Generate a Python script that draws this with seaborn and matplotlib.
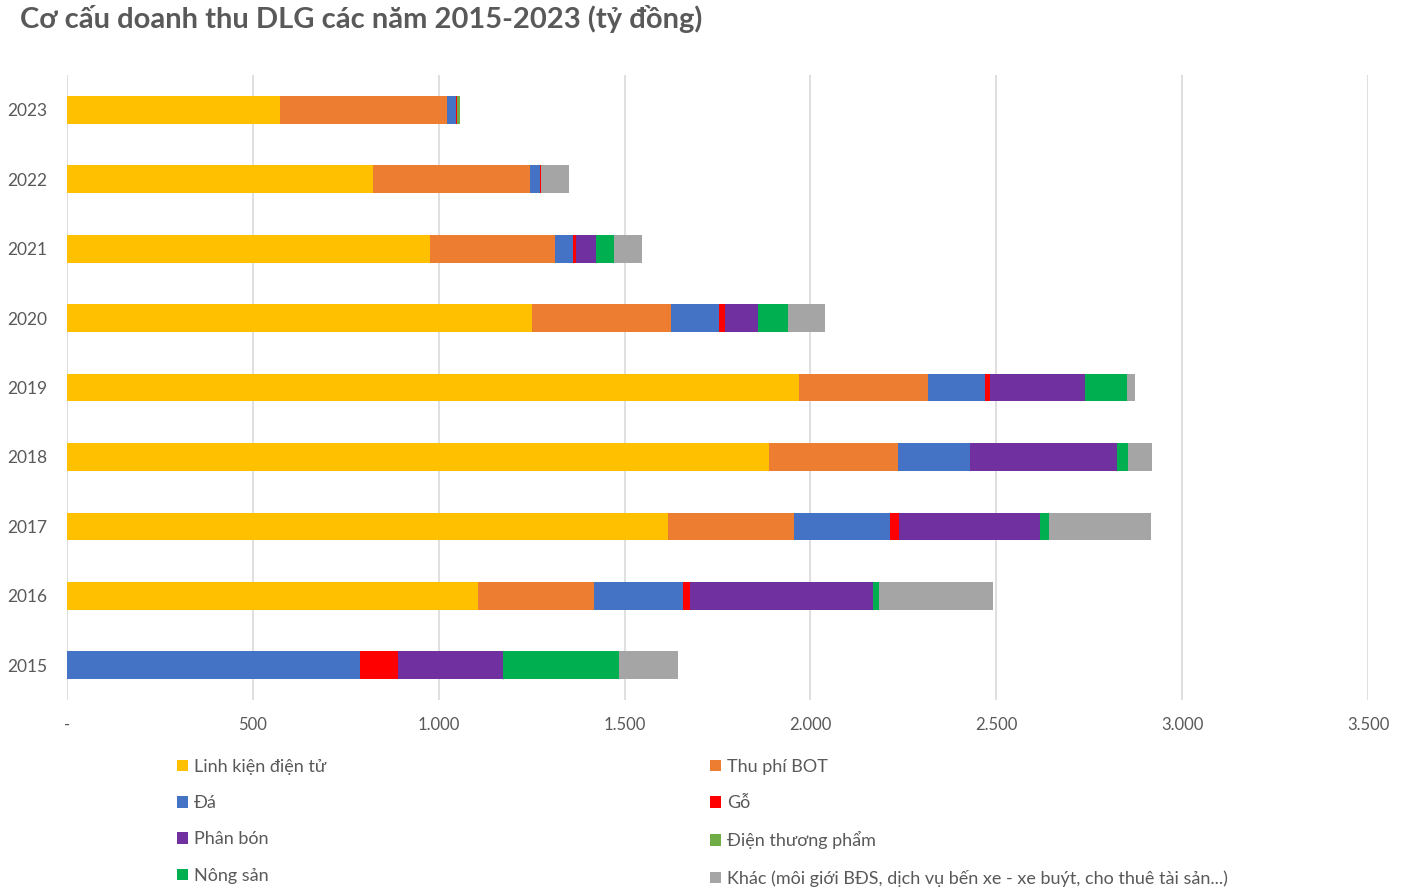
import numpy as np
import pandas as pd
import matplotlib
matplotlib.use("Agg")
import matplotlib.pyplot as plt
from matplotlib.patches import Patch
from matplotlib.ticker import FuncFormatter
import seaborn as sns

# ---- data (tỷ đồng) ----
years = ["2023", "2022", "2021", "2020", "2019", "2018", "2017", "2016", "2015"]
series_names = [
    "Linh kiện điện tử", "Thu phí BOT", "Đá", "Gỗ", "Phân bón",
    "Điện thương phẩm", "Nông sản",
    "Khác (môi giới BĐS, dịch vụ bến xe - xe buýt, cho thuê tài sản...)",
]
linh_kien = [573, 823, 976, 1250, 1968, 1888, 1617, 1107, 0]
thu_phi_bot = [449, 422, 338, 376, 349, 347, 338, 311, 0]
da = [24, 27, 48, 129, 153, 193, 258, 240, 788]
go = [3, 3, 8, 14, 14, 0, 25, 17, 103]
phan_bon = [0, 0, 54, 91, 255, 396, 379, 494, 281]
dien_thuong_pham = [8, 0, 0, 0, 0, 0, 0, 0, 0]
nong_san = [0, 0, 48, 81, 113, 29, 24, 16, 312]
khac = [0, 75, 75, 99, 22, 65, 274, 306, 160]

colors = ["#FFC000", "#ED7D31", "#4472C4", "#FF0000", "#7030A0",
          "#70AD47", "#00B050", "#A5A5A5"]

values = [linh_kien, thu_phi_bot, da, go, phan_bon, dien_thuong_pham, nong_san, khac]
df = pd.DataFrame({name: v for name, v in zip(series_names, values)}, index=years)
cum = df.cumsum(axis=1)

TXT = "#595959"
sns.set_theme(style="white")
plt.rcParams["font.family"] = ["Lato", "DejaVu Sans"]

fig = plt.figure(figsize=(14.10, 8.88), dpi=100)
ax = fig.add_axes([67 / 1410, 1 - 700 / 888, (1368 - 67) / 1410, (700 - 75) / 888])

# stacked bars: draw cumulative totals from the last series back to the first
for name, col in zip(series_names[::-1], colors[::-1]):
    d = pd.DataFrame({"year": years, "total": cum[name].values})
    sns.barplot(data=d, x="total", y="year", order=years, orient="h",
                color=col, saturation=1, width=0.4, ax=ax, zorder=3,
                linewidth=0, edgecolor="none")

ax.set_xlim(0, 3500)
ax.set_ylim(len(years) - 0.5, -0.5)
ax.set_xticks(np.arange(0, 3501, 500))
ax.xaxis.set_major_formatter(FuncFormatter(
    lambda v, p: "-" if v == 0 else f"{int(v):,}".replace(",", ".")))
ax.grid(axis="x", color="#D9D9D9", linewidth=1.2, zorder=0)
ax.grid(axis="y", visible=False)
ax.set_axisbelow(True)
for s in ax.spines.values():
    s.set_visible(False)
ax.set_xlabel("")
ax.set_ylabel("")
ax.tick_params(axis="x", length=0, pad=12, labelsize=12, labelcolor=TXT)
ax.tick_params(axis="y", length=0, pad=14, labelsize=12.5, labelcolor=TXT)

fig.text(20 / 1410, 1 - 19 / 888, "Cơ cấu doanh thu DLG các năm 2015-2023 (tỷ đồng)",
         fontsize=21, fontweight="bold", color=TXT, ha="left", va="center")

handles = [Patch(facecolor=c, edgecolor="none", label=n) for n, c in zip(series_names, colors)]
left_idx = [0, 2, 4, 6]
right_idx = [1, 3, 5, 7]
common = dict(loc="upper left", frameon=False, fontsize=13, labelcolor=TXT,
              handlelength=0.6, handleheight=0.6, handletextpad=0.35,
              labelspacing=1.12, borderaxespad=0, borderpad=0)
leg1 = fig.legend([handles[i] for i in left_idx], [series_names[i] for i in left_idx],
                  bbox_to_anchor=(177 / 1410, 1 - 759 / 888), **common)
leg2 = fig.legend([handles[i] for i in right_idx], [series_names[i] for i in right_idx],
                  bbox_to_anchor=(710 / 1410, 1 - 759 / 888), **common)

fig.savefig("out.png", dpi=100, facecolor="white")
